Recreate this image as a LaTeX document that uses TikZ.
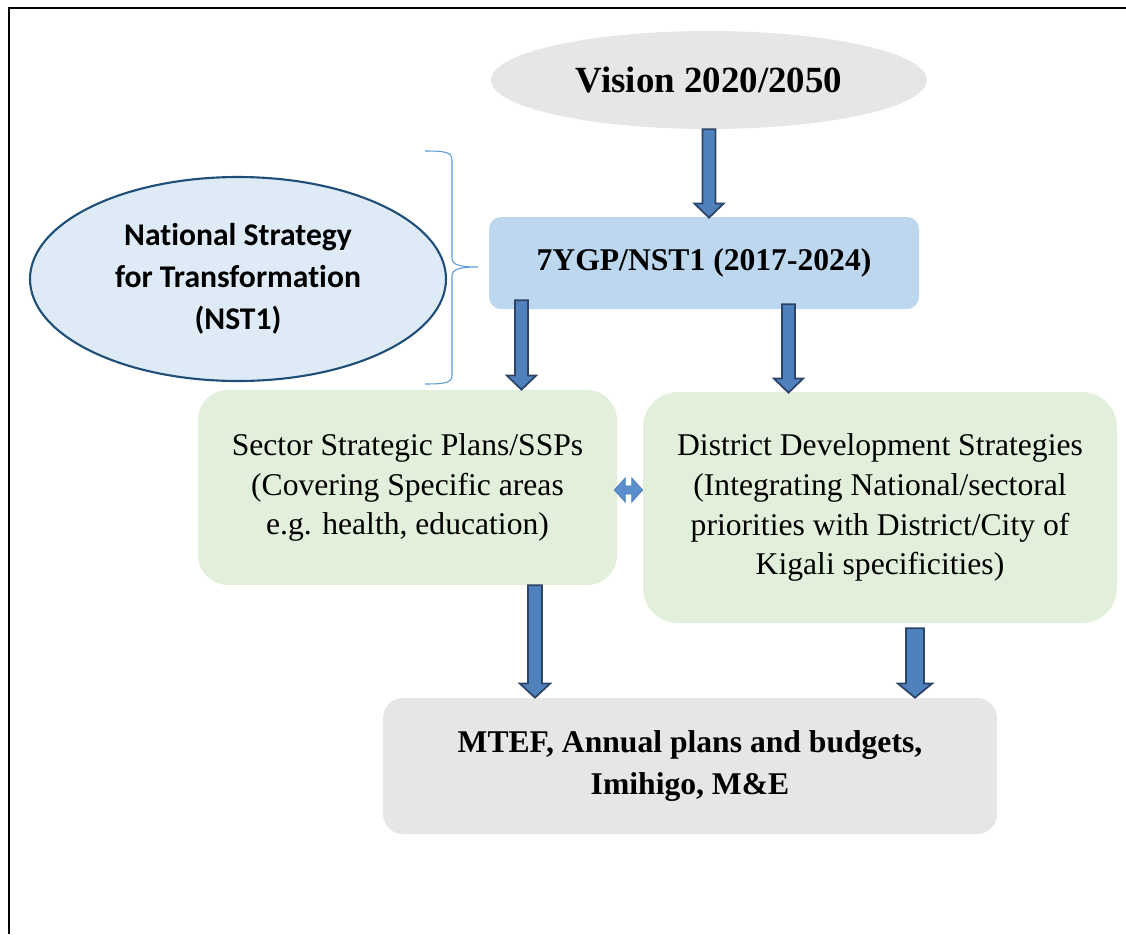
\documentclass[tikz,border=0pt]{standalone}
\usepackage{fontspec}
\setmainfont{Liberation Serif}
\newfontfamily\calibri[Ligatures=NoCommon]{Carlito}
\usepackage{xcolor}
\usepackage{tikz}
\usetikzlibrary{shapes.geometric,calc}

\definecolor{visiongray}{HTML}{E6E6E6}
\definecolor{ygpblue}{HTML}{BDD7EE}
\definecolor{plangreen}{HTML}{E2EFDA}
\definecolor{nstfill}{HTML}{DEEBF7}
\definecolor{nstline}{HTML}{1F4E79}
\definecolor{arrowfill}{HTML}{4F81BD}
\definecolor{arrowline}{HTML}{2B4468}
\definecolor{pairfill}{HTML}{5B8FCB}
\definecolor{bracecol}{HTML}{5B9BD5}

\newdimen\pxu
\pxu=0.02cm

% block arrow pointing down, #2 start, #3 tip
\newcommand{\flowarrow}[3][7.4pt]{%
  \draw[blockarrow] let \p1=#2, \p2=#3 in
    (\x1-#1/2,\y1) -- (\x1+#1/2,\y1) -- (\x1+#1/2,\y2+8pt)
    -- (\x1+#1/2+4.6pt,\y2+8pt) -- (\x1,\y2) -- (\x1-#1/2-4.6pt,\y2+8pt)
    -- (\x1-#1/2,\y2+8pt) -- cycle;}

\begin{document}
\begin{tikzpicture}[x=0.02cm,y=-0.02cm,
    every node/.style={inner sep=0pt,align=center},
    textstyle/.style={font=\fontsize{18}{22.7}\selectfont},
    boxstyle/.style={textstyle,rectangle,minimum width=#1},
    blockarrow/.style={draw=arrowline,fill=arrowfill,line width=1pt,line join=miter},
    pairarrow/.style={draw=arrowfill,fill=pairfill,line width=0.5pt},
    bracestroke/.style={draw=bracecol,line width=0.6pt}]
            \useasboundingbox (0,0) rectangle (1126,934);
            \draw [black,line width=1.7pt] (9,934) -- (9,8) -- (1126,8);
            % nodes
            \node [ellipse,fill=visiongray,minimum width=436\pxu,minimum height=98\pxu,
                   font=\fontsize{21}{25}\selectfont\bfseries] (vision) at (709,80) {Vision 2020/2050};
            \node [boxstyle=430\pxu,minimum height=92\pxu,fill=ygpblue,rounded corners=12\pxu,
                   font=\fontsize{18}{22.7}\selectfont\bfseries] (ygp) at (704,263) {7YGP/NST1 (2017-2024)};
            \node [ellipse,draw=nstline,line width=1.2pt,fill=nstfill,minimum width=416\pxu,minimum height=204\pxu,
                   font=\calibri\fontsize{18}{24}\selectfont\bfseries] (nst) at (238,279)
                   {National Strategy\\for Transformation\\(NST1)};
            \node [boxstyle=419\pxu,minimum height=195\pxu,fill=plangreen,rounded corners=30\pxu] (ssp) at (407.5,487.5)
                   {Sector Strategic Plans/SSPs\\(Covering Specific areas\\e.g. health, education)};
            \node [boxstyle=474\pxu,minimum height=231\pxu,fill=plangreen,rounded corners=35\pxu] (dds) at (880,507.5)
                   {District Development Strategies\\(Integrating National/sectoral\\priorities with District/City of\\Kigali specificities)};
            \node [boxstyle=614\pxu,minimum height=136\pxu,fill=visiongray,rounded corners=20\pxu,
                   font=\fontsize{18}{23.8}\selectfont\bfseries] (mtef) at (690,766)
                   {MTEF, Annual plans and budgets,\\Imihigo, M\&E};
            % brace
            \draw [bracestroke] (425,151) .. controls (445,151) and (452,152) .. (452,160) -- (452,258)
                  .. controls (452,265) and (460,267) .. (478,267)
                  .. controls (460,267) and (452,269) .. (452,276) -- (452,375)
                  .. controls (452,383) and (445,384) .. (425,384);
            % arrows
            \flowarrow{(vision.south)}{($(ygp.north)+(0,1)$)}
            \flowarrow{($(ygp.south)+(-182.5,-9)$)}{(ssp.north)}
            \flowarrow{($(ygp.south)+(84.5,-5)$)}{($(dds.north)+(0,1)$)}
            \flowarrow[8pt]{($(ssp.south)+(127.5,0)$)}{(mtef.north)}
            \flowarrow[10.2pt]{($(dds.south)+(35,5)$)}{(mtef.north)}
            \draw [pairarrow] let \p1=($(ssp.east)+(-3,2.5)$), \p2=(dds.west) in
                  (\x1,\y1) -- (\x1+6.2pt,\y1+6.8pt) -- (\x1+6.2pt,\y1+2.3pt) -- (\x2-6.2pt,\y1+2.3pt)
                  -- (\x2-6.2pt,\y1+6.8pt) -- (\x2,\y1) -- (\x2-6.2pt,\y1-6.8pt) -- (\x2-6.2pt,\y1-2.3pt)
                  -- (\x1+6.2pt,\y1-2.3pt) -- (\x1+6.2pt,\y1-6.8pt) -- cycle;
        \end{tikzpicture}
\end{document}
